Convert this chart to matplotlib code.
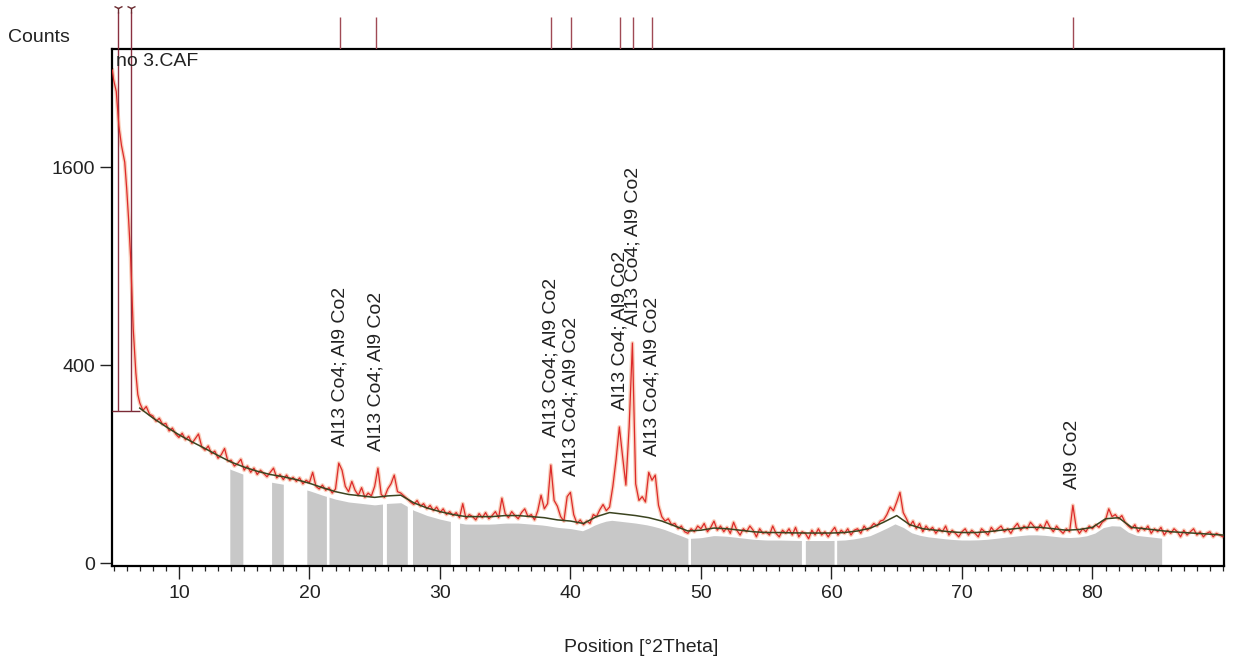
import numpy as np
import matplotlib
matplotlib.use('Agg')
import matplotlib.pyplot as plt
from matplotlib.transforms import ScaledTranslation

plt.rcParams['font.family'] = ['Liberation Sans', 'DejaVu Sans']

# low angle part of the scan, finer steps
start_pos = [4.9, 5.0, 5.2, 5.4, 5.6, 5.85, 6.0, 6.15, 6.3, 6.5, 6.7, 6.85]
start_counts = [2480, 2380, 2270, 1950, 1780, 1640, 1430, 1200, 955, 560, 370, 290]

# rest of the scan, 0.25 deg steps from 7.0 to 90.0 (4 values per degree)
scan_start = 7.0
scan_step = 0.25
scan_counts = [
    262, 238, 250, 226,   # 7
    221, 205, 214, 196,   # 8
    199, 178, 186, 170,   # 9
    161, 172, 155, 164,   # 10
    146, 158, 170, 138,   # 11
    130, 140, 122, 128,   # 12
    112, 120, 134, 106,   # 13
    108, 96, 101, 110,    # 14
    88, 96, 84, 92,       # 15
    80, 88, 82, 76,       # 16
    84, 92, 74, 80,       # 17
    71, 79, 70, 75,       # 18
    68, 74, 64, 70,       # 19
    66, 84, 60, 56,       # 20
    62, 54, 58, 50,       # 21
    56, 102, 88, 60,      # 22
    52, 68, 54, 47,       # 23
    58, 44, 50, 46,       # 24
    60, 92, 48, 44,       # 25
    56, 64, 79, 52,       # 26
    50, 46, 42, 38,       # 27
    35, 40, 33, 36,       # 28
    30, 34, 28, 32,       # 29
    26, 30, 24, 27,       # 30
    23, 26, 21, 36,       # 31
    20, 24, 22, 19,       # 32
    25, 21, 26, 20,       # 33
    23, 27, 21, 43,       # 34
    25, 21, 27, 23,       # 35
    20, 26, 30, 22,       # 36
    24, 19, 28, 47,       # 37
    30, 36, 98, 40,       # 38
    33, 22, 18, 45,       # 39
    51, 24, 16, 19,       # 40
    15, 18, 16, 24,       # 41
    22, 29, 35, 28,       # 42
    32, 60, 110, 189,     # 43
    115, 62, 190, 494,    # 44
    64, 40, 45, 38,       # 45
    84, 70, 79, 34,       # 46
    22, 18, 20, 15,       # 47
    16, 12, 14, 10,       # 48
    9, 12, 10, 14,        # 49
    12, 16, 10, 13,       # 50
    18, 11, 14, 10,       # 51
    13, 9, 17, 11,        # 52
    8, 12, 10, 14,        # 53
    11, 7, 12, 9,         # 54
    10, 8, 14, 9,         # 55
    7, 11, 9, 12,         # 56
    8, 13, 7, 10,         # 57
    9, 6, 11, 8,          # 58
    12, 8, 10, 7,         # 59
    10, 13, 8, 11,        # 60
    9, 12, 8, 11,         # 61
    12, 9, 14, 11,        # 62
    13, 16, 14, 18,       # 63
    19, 24, 32, 28,       # 64
    38, 51, 26, 20,       # 65
    14, 18, 12, 16,       # 66
    10, 14, 11, 13,       # 67
    9, 12, 10, 14,        # 68
    8, 11, 9, 7,          # 69
    10, 12, 8, 11,        # 70
    9, 7, 12, 10,         # 71
    8, 13, 10, 12,        # 72
    14, 10, 12, 9,        # 73
    13, 16, 11, 14,       # 74
    12, 17, 14, 11,       # 75
    15, 12, 18, 13,       # 76
    10, 14, 11, 9,        # 77
    12, 10, 34, 13,       # 78
    9, 12, 10, 14,        # 79
    12, 15, 13, 17,       # 80
    19, 30, 22, 24,       # 81
    20, 23, 17, 14,       # 82
    12, 15, 10, 13,       # 83
    11, 14, 9, 12,        # 84
    10, 13, 8, 11,        # 85
    9, 12, 10, 7,         # 86
    11, 8, 10, 12,        # 87
    8, 10, 7, 9,          # 88
    10, 7, 9, 8,          # 89
    7,                    # 90
]

# fitted background
bg_pos = [7, 8, 9, 10, 11, 12, 13, 14, 15, 16, 17, 18, 19, 20, 21, 22, 23, 24, 25,
          26, 27, 28, 29, 30, 31, 32, 33, 34, 35, 36, 37, 38, 39, 40, 41, 42, 43,
          44, 45, 46, 47, 48, 49, 50, 51, 52, 53, 54, 55, 56, 57, 58, 59, 60, 61,
          62, 63, 64, 65, 66, 67, 68, 69, 70, 71, 72, 73, 74, 75, 76, 77, 78, 79,
          80, 81, 82, 83, 84, 85, 86, 87, 88, 89, 90]
bg_counts = [245, 215, 190, 168, 150, 134, 118, 104, 94, 86, 80, 76, 71, 65, 58, 52,
             48, 46, 44, 46, 47, 37, 31, 27, 24, 22, 22, 22, 23, 23, 22, 21, 19, 18,
             16, 22, 26, 24.5, 23, 21, 18, 14, 10.5, 11, 12.5, 12, 11, 10, 9.5, 9.5,
             9.3, 9.2, 9.2, 9.2, 9.5, 10.5, 12.5, 17, 23, 15, 12, 11, 10, 9.5, 9.5,
             10, 11, 12, 13, 13, 12, 11, 11.5, 13, 20, 21, 13, 12, 11, 10, 9.5, 9,
             8.5, 8]

# ranges used for the background determination
bg_ranges = [(13.9, 14.9), (17.1, 18.0), (19.8, 21.3), (21.5, 25.6), (25.9, 27.5),
             (27.9, 30.8), (31.5, 49.0), (49.2, 57.7), (58.0, 60.2), (60.4, 85.3)]

# peak list
peak_pos = [5.33, 6.32, 22.34, 25.1, 38.5, 40.04, 43.8, 44.8, 46.25, 78.5]
peak_labels = ['', '', 'Al13 Co4; Al9 Co2', 'Al13 Co4; Al9 Co2', 'Al13 Co4; Al9 Co2',
               'Al13 Co4; Al9 Co2', 'Al13 Co4; Al9 Co2', 'Al13 Co4; Al9 Co2',
               'Al13 Co4; Al9 Co2', 'Al9 Co2']
peak_counts = [2700, 2700, 102, 92, 98, 51, 189, 494, 84, 34]
low_peak_base = 236

x_ticks = [10, 20, 30, 40, 50, 60, 70, 80]
y_ticks = [0, 400, 1600]

scan_pos = scan_start + scan_step * np.arange(len(scan_counts))
pos = np.concatenate([start_pos, scan_pos])
counts = np.concatenate([start_counts, scan_counts])


def fwd(v):
    v = np.asarray(v, dtype=float)
    return np.sign(v) * np.sqrt(np.abs(v))


def inv(v):
    v = np.asarray(v, dtype=float)
    return np.sign(v) * v ** 2


fig = plt.figure(figsize=(12.37, 6.70), dpi=100)
ax = fig.add_axes([0.0905, 0.1552, 0.899, 0.7716])
ax_top = fig.add_axes([0.0905, 0.9269, 0.899, 0.0731], sharex=ax)

ax.set_yscale('function', functions=(fwd, inv))
ax.set_xlim(4.87, 90.08)
ax.set_ylim(-0.09, 2696)

# grey background ranges, drawn a little below the background line
shift = ax.transData + ScaledTranslation(0, -7.5 / 100, fig.dpi_scale_trans)
bgx = np.array(bg_pos, dtype=float)
bgy = np.array(bg_counts, dtype=float)
for a, b in bg_ranges:
    xs = np.linspace(a, b, 40)
    ys = np.interp(xs, bgx, bgy)
    ax.fill_between(xs, -50, ys, color='#c8c8c8', lw=0, transform=shift, zorder=1)

# low angle peak sticks
ax.hlines(low_peak_base, 4.87, 7.0, color='#7a2a35', lw=1.0, zorder=3)
ax.vlines(peak_pos[:2], low_peak_base, 2696, color='#8a3040', lw=1.0, zorder=3)

ax.plot(pos, counts, color='#f4a07a', lw=2.8, alpha=0.5, zorder=2)
ax.plot(pos, counts, color='#dd2a2a', lw=0.9, zorder=3)
ax.plot(bg_pos, bg_counts, color='#3b4420', lw=1.1, zorder=4)

for p, h, lab in zip(peak_pos, peak_counts, peak_labels):
    if not lab:
        continue
    pad = 20 if p == 38.5 else 12
    ax.annotate(lab, (p, h), xytext=(0, pad), textcoords='offset points',
                rotation=90, ha='center', va='bottom', fontsize=14,
                color='#222222', zorder=5)

ax.text(0.004, 0.993, 'no 3.CAF', transform=ax.transAxes, ha='left', va='top',
        fontsize=14, color='#222222')

ax.set_xticks(x_ticks)
ax.set_xticks(np.arange(5, 91, 1), minor=True)
ax.set_yticks(y_ticks)
ax.set_yticklabels([str(v) for v in y_ticks])
ax.yaxis.set_minor_locator(matplotlib.ticker.NullLocator())
ax.tick_params(axis='x', which='major', length=9.5, width=1.0, pad=4, labelsize=14,
               colors='#222222', direction='out')
ax.tick_params(axis='x', which='minor', length=3.6, width=0.9, direction='out',
               colors='#222222')
ax.tick_params(axis='y', which='major', length=9, width=1.0, pad=3, labelsize=14,
               colors='#222222', direction='out')
for s in ax.spines.values():
    s.set_linewidth(1.6)
    s.set_color('black')

# peak positions above the plot
ax_top.set_ylim(49, 0)
ax_top.vlines(peak_pos[:2], 12, 49, color='#8a3040', lw=1.0)
ax_top.plot(peak_pos[:2], [8, 8], ls='none', marker='1', ms=7, mew=1.0, color='#6a2a30')
ax_top.vlines(peak_pos[2:], 17, 49, color='#a04a55', lw=1.0)
ax_top.axis('off')

fig.text(8 / 1237, 1 - 37 / 670, 'Counts', ha='left', va='center', fontsize=14,
         color='#222222')
fig.text(641 / 1237, 1 - 648 / 670, 'Position [°2Theta]', ha='center', va='center',
         fontsize=14, color='#222222')

fig.savefig('out.png', dpi=100, facecolor='white')
